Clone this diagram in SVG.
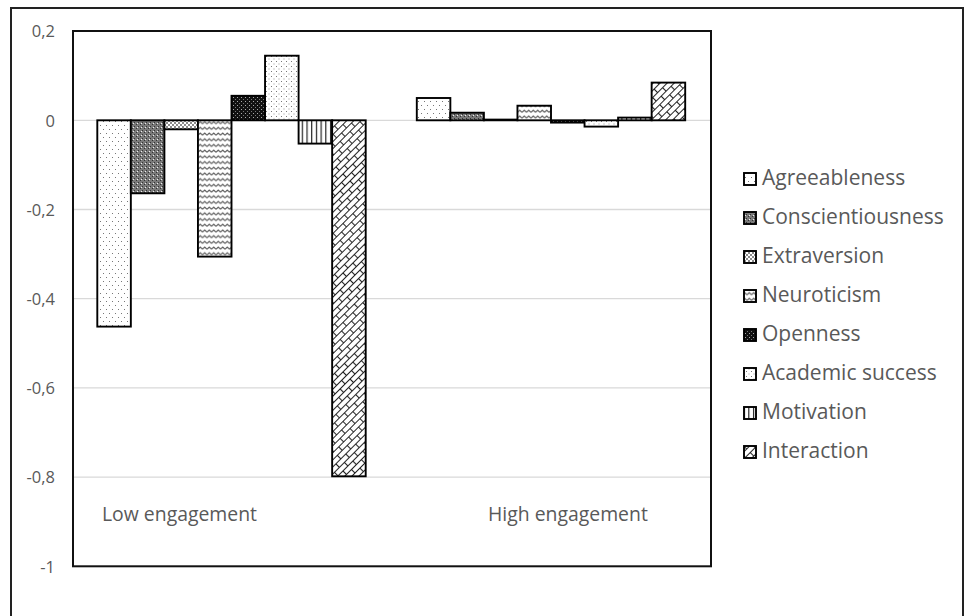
<svg xmlns="http://www.w3.org/2000/svg" width="967" height="616" viewBox="0 0 967 616">
<style>
.ax{font-family:"Open Sans","Noto Sans",sans-serif;font-size:16.5px;fill:#595959;text-anchor:end}
.cat{font-family:"Open Sans","Noto Sans",sans-serif;font-size:19.4px;fill:#595959}
.lg{font-family:"Open Sans","Noto Sans",sans-serif;font-size:21px;fill:#595959}
.grid{stroke:#d9d9d9;stroke-width:1.3}
.bar{stroke:#000;stroke-width:1.9}
.key{stroke:#000;stroke-width:1.9}
</style>
<defs>
<pattern id="p1" patternUnits="userSpaceOnUse" width="6" height="8"><rect width="6" height="8" fill="#fff"/><rect x="1" y="1" width="1" height="1" fill="#777"/><rect x="4" y="5" width="1" height="1" fill="#777"/></pattern>
<pattern id="p2" patternUnits="userSpaceOnUse" width="4" height="4"><rect width="4" height="4" fill="#7a7a7a"/><rect x="0" y="0" width="1" height="1" fill="#333"/><rect x="2" y="2" width="1" height="1" fill="#333"/><rect x="1" y="3" width="1" height="1" fill="#eee"/></pattern>
<pattern id="p3" patternUnits="userSpaceOnUse" width="4" height="4"><rect width="4" height="4" fill="#fff"/><rect x="0" y="0" width="2" height="2" fill="#8a8a8a"/><rect x="2" y="2" width="2" height="2" fill="#8a8a8a"/></pattern>
<pattern id="p4" patternUnits="userSpaceOnUse" width="4.5" height="5.7"><rect width="4.5" height="5.7" fill="#fff"/><path d="M0,4 L2.25,2 L4.5,4" fill="none" stroke="#555" stroke-width="1.1"/></pattern>
<pattern id="p5" patternUnits="userSpaceOnUse" width="4" height="4"><rect width="4" height="4" fill="#111"/><rect x="1" y="1" width="1" height="1" fill="#aaa"/><rect x="3" y="3" width="1" height="1" fill="#777"/></pattern>
<pattern id="p6" patternUnits="userSpaceOnUse" width="5" height="5"><rect width="5" height="5" fill="#fff"/><rect x="1" y="1" width="1" height="1" fill="#777"/><rect x="3.5" y="3.5" width="1" height="1" fill="#999"/></pattern>
<pattern id="p7" patternUnits="userSpaceOnUse" width="4.7" height="4"><rect width="4.7" height="4" fill="#fff"/><rect x="1" y="0" width="1.1" height="4" fill="#111"/></pattern>
<pattern id="p8" patternUnits="userSpaceOnUse" width="14" height="10" patternTransform="rotate(-45)"><rect width="14" height="10" fill="#fff"/><path d="M0,0.5 H14 M0,5.5 H14 M0.5,0.5 V5.5 M7.5,5.5 V10" fill="none" stroke="#222" stroke-width="1.1"/></pattern>
</defs>
<rect x="0" y="0" width="967" height="616" fill="#fff"/>
<g id="frame"><rect x="11" y="8" width="952" height="620" fill="#fff" stroke="#222" stroke-width="2"/></g>
<g id="grid">
<line class="grid" x1="73" y1="120.3" x2="711" y2="120.3"/>
<line class="grid" x1="73" y1="209.5" x2="711" y2="209.5"/>
<line class="grid" x1="73" y1="298.7" x2="711" y2="298.7"/>
<line class="grid" x1="73" y1="387.9" x2="711" y2="387.9"/>
<line class="grid" x1="73" y1="477.1" x2="711" y2="477.1"/>
</g>
<g id="axis-labels">
<text class="ax" x="55" y="37">0,2</text>
<text class="ax" x="55" y="126.5">0</text>
<text class="ax" x="55" y="215.7">-0,2</text>
<text class="ax" x="55" y="304.9">-0,4</text>
<text class="ax" x="55" y="394.1">-0,6</text>
<text class="ax" x="55" y="483.3">-0,8</text>
<text class="ax" x="55" y="572.5">-1</text>
</g>
<g id="low-engagement">
<rect class="bar" x="97.3" y="120.3" width="33.55" height="206.3" fill="url(#p1)"/>
<rect class="bar" x="130.85" y="120.3" width="33.55" height="73" fill="url(#p2)"/>
<rect class="bar" x="164.4" y="120.3" width="33.55" height="9" fill="url(#p3)"/>
<rect class="bar" x="197.95" y="120.3" width="33.55" height="136.3" fill="url(#p4)"/>
<rect class="bar" x="231.5" y="95.8" width="33.55" height="24.5" fill="url(#p5)"/>
<rect class="bar" x="265.05" y="55.7" width="33.55" height="64.6" fill="url(#p6)"/>
<rect class="bar" x="298.6" y="120.3" width="33.55" height="23.3" fill="url(#p7)"/>
<rect class="bar" x="332.15" y="120.3" width="33.55" height="356" fill="url(#p8)"/>
<text class="cat" x="102" y="521">Low engagement</text>
</g>
<g id="high-engagement">
<rect class="bar" x="416.8" y="98" width="33.55" height="22.3" fill="url(#p1)"/>
<rect class="bar" x="450.35" y="112.7" width="33.55" height="7.6" fill="url(#p2)"/>
<rect class="bar" x="483.9" y="119.6" width="33.55" height="0.7" fill="url(#p3)"/>
<rect class="bar" x="517.45" y="105.7" width="33.55" height="14.6" fill="url(#p4)"/>
<rect class="bar" x="551" y="120.3" width="33.55" height="2.3" fill="url(#p5)"/>
<rect class="bar" x="584.55" y="120.3" width="33.55" height="6.3" fill="url(#p6)"/>
<rect class="bar" x="618.1" y="117.6" width="33.55" height="2.7" fill="url(#p7)"/>
<rect class="bar" x="651.65" y="82.6" width="33.55" height="37.7" fill="url(#p8)"/>
<text class="cat" x="488" y="521">High engagement</text>
</g>
<g id="plot-border"><rect x="73" y="31" width="638" height="535.3" fill="none" stroke="#111" stroke-width="2"/></g>
<g id="legend">
<g id="leg-agreeableness"><rect class="key" x="744" y="173" width="12" height="12" fill="url(#p1)"/><text class="lg" x="762" y="185">Agreeableness</text></g>
<g id="leg-conscientiousness"><rect class="key" x="744" y="212" width="12" height="12" fill="url(#p2)"/><text class="lg" x="762" y="224">Conscientiousness</text></g>
<g id="leg-extraversion"><rect class="key" x="744" y="251" width="12" height="12" fill="url(#p3)"/><text class="lg" x="762" y="263">Extraversion</text></g>
<g id="leg-neuroticism"><rect class="key" x="744" y="290" width="12" height="12" fill="url(#p4)"/><text class="lg" x="762" y="302">Neuroticism</text></g>
<g id="leg-openness"><rect class="key" x="744" y="329" width="12" height="12" fill="url(#p5)"/><text class="lg" x="762" y="341">Openness</text></g>
<g id="leg-academic"><rect class="key" x="744" y="368" width="12" height="12" fill="url(#p6)"/><text class="lg" x="762" y="380">Academic success</text></g>
<g id="leg-motivation"><rect class="key" x="744" y="407" width="12" height="12" fill="url(#p7)"/><text class="lg" x="762" y="419">Motivation</text></g>
<g id="leg-interaction"><rect class="key" x="744" y="446" width="12" height="12" fill="url(#p8)"/><text class="lg" x="762" y="458">Interaction</text></g>
</g>
<g id="connectors"/>
</svg>
